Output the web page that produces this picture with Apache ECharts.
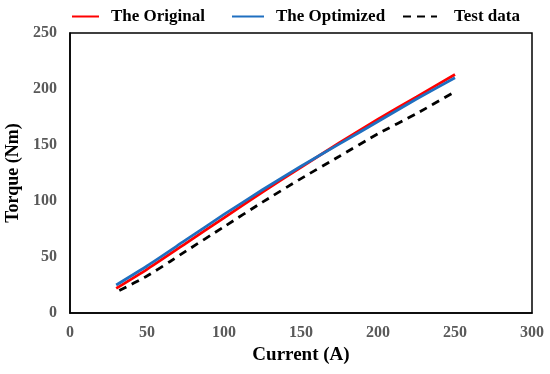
<!DOCTYPE html>
<html><head><meta charset="utf-8">
<script src="https://cdn.jsdelivr.net/npm/echarts@6/dist/echarts.min.js"></script>
<style>html,body{margin:0;padding:0;background:#fff}#c{width:550px;height:374px}</style>
</head><body><div id="c"></div>
<script>
const seriesNames = ['The Original', 'The Optimized', 'Test data'];
const originalX = [30, 50, 75, 100, 125, 150, 175, 200, 225, 250];
const originalY = [22, 39, 62, 85, 108, 130, 152, 173, 193, 213];
const optimizedX = [30, 50, 75, 100, 125, 150, 175, 200, 225, 250];
const optimizedY = [25, 42, 65, 88, 110, 131, 151, 171, 191, 210];
const testX = [32, 50, 65, 75, 100, 125, 150, 175, 200, 225, 248];
const testY = [20, 33, 46, 55, 77, 99, 120, 140, 160, 178, 196];
const xTicks = {min: 0, max: 300, interval: 50};
const yTicks = {min: 0, max: 250, interval: 50};

const zip = (xs, ys) => xs.map((x, i) => [x, ys[i]]);
const font = 'Liberation Serif';
const legendText = {fontFamily: font, fontWeight: 'bold', fontSize: 17, color: '#000', padding: [0, 0, 0, 7]};
const hideSym = {opacity: 0, borderWidth: 0};
const chart = echarts.init(document.getElementById('c'), null, {renderer: 'canvas'});
chart.setOption({
  animation: false,
  backgroundColor: '#fff',
  grid: {left: 70, right: 18, top: 33, bottom: 61, show: true, borderColor: '#000', borderWidth: 1.5,
         containLabel: false, outerBoundsMode: 'none'},
  legend: [
    {data: [seriesNames[0]], left: 66, top: 3, itemWidth: 27, itemHeight: 14, itemStyle: hideSym, textStyle: legendText},
    {data: [seriesNames[1]], left: 226, top: 3, itemWidth: 32, itemHeight: 14, itemStyle: hideSym, textStyle: legendText},
    {data: [seriesNames[2]], left: 397, top: 3, itemWidth: 34, itemHeight: 14, itemStyle: hideSym, textStyle: Object.assign({}, legendText, {padding: [0, 0, 0, 12]})}
  ],
  xAxis: {
    type: 'value', min: xTicks.min, max: xTicks.max, interval: xTicks.interval,
    name: 'Current (A)', nameLocation: 'middle', nameGap: 31,
    nameTextStyle: {fontFamily: font, fontWeight: 'bold', fontSize: 19, color: '#000'},
    axisLine: {show: true, lineStyle: {color: '#000', width: 1.5}},
    axisTick: {show: false}, splitLine: {show: false},
    axisLabel: {fontFamily: font, fontWeight: 'bold', fontSize: 16, color: '#595959', margin: 12}
  },
  yAxis: {
    type: 'value', min: yTicks.min, max: yTicks.max, interval: yTicks.interval,
    name: 'Torque (Nm)', nameLocation: 'middle', nameGap: 40,
    nameTextStyle: {fontFamily: font, fontWeight: 'bold', fontSize: 18, color: '#000'},
    axisLine: {show: true, lineStyle: {color: '#000', width: 1.5}},
    axisTick: {show: false}, splitLine: {show: false},
    axisLabel: {fontFamily: font, fontWeight: 'bold', fontSize: 16, color: '#595959', margin: 13}
  },
  series: [
    {name: seriesNames[0], type: 'line', data: zip(originalX, originalY), symbol: 'none', smooth: 0.2,
     color: '#ff0000', lineStyle: {color: '#ff0000', width: 2.8}, z: 3},
    {name: seriesNames[1], type: 'line', data: zip(optimizedX, optimizedY), symbol: 'none', smooth: 0.2,
     color: '#1f6fc0', lineStyle: {color: '#1f6fc0', width: 2.8}, z: 4},
    {name: seriesNames[2], type: 'line', data: zip(testX, testY), symbol: 'none', smooth: 0.2,
     color: '#000', lineStyle: {color: '#000', width: 2.8, type: [8, 6]}, z: 2}
  ]
});
</script></body></html>
